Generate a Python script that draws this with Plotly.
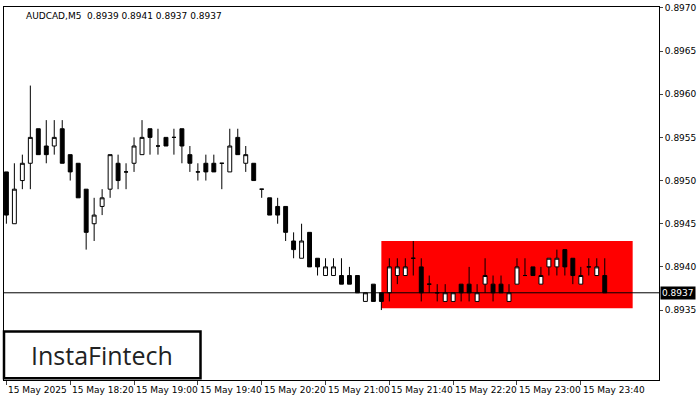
import plotly.graph_objects as go

# AUDCAD M5 bars, 17:40 .. 23:55
opens = [0.8951, 0.8945, 0.8950, 0.8952, 0.8956, 0.8954, 0.8954, 0.8956, 0.8953, 0.8952,
         0.8949, 0.8945, 0.8947, 0.8949, 0.8952, 0.8951, 0.8952, 0.8953, 0.8956, 0.8954,
         0.8955, 0.8955, 0.8956, 0.8953, 0.8951, 0.8952, 0.8952, 0.8952, 0.8951, 0.8955,
         0.8952, 0.8952, 0.8949, 0.8948, 0.8947, 0.8947, 0.8943, 0.8941, 0.8944, 0.8941,
         0.8939, 0.8939, 0.8939, 0.8939, 0.8939, 0.8936, 0.8938, 0.8937, 0.8937, 0.8939,
         0.8939, 0.8941, 0.8940, 0.8938, 0.8937, 0.8936, 0.8936, 0.8938, 0.8938, 0.8936,
         0.8938, 0.8938, 0.8938, 0.8936, 0.8938, 0.8939, 0.8940, 0.8938, 0.8940, 0.8940,
         0.8942, 0.8941, 0.8938, 0.8940, 0.8939, 0.8939]
highs = [0.8951, 0.8952, 0.8953, 0.8961, 0.8956, 0.8957, 0.8957, 0.8957, 0.8953, 0.8952,
         0.8949, 0.8948, 0.8949, 0.8953, 0.8953, 0.8952, 0.8955, 0.8957, 0.8956, 0.8956,
         0.8955, 0.8956, 0.8956, 0.8954, 0.8952, 0.8953, 0.8953, 0.8952, 0.8956, 0.8956,
         0.8954, 0.8952, 0.8949, 0.8948, 0.8948, 0.8947, 0.8944, 0.8945, 0.8944, 0.8941,
         0.8941, 0.8941, 0.8941, 0.8940, 0.8939, 0.8937, 0.8938, 0.8937, 0.8941, 0.8941,
         0.8941, 0.8943, 0.8941, 0.8939, 0.8938, 0.8938, 0.8937, 0.8938, 0.8940, 0.8938,
         0.8941, 0.8939, 0.8939, 0.8938, 0.8941, 0.8941, 0.8940, 0.8940, 0.8941, 0.8942,
         0.8942, 0.8941, 0.8940, 0.8941, 0.8941, 0.8941]
lows = [0.8945, 0.8945, 0.8949, 0.8949, 0.8953, 0.8952, 0.8953, 0.8952, 0.8950, 0.8948,
        0.8942, 0.8943, 0.8946, 0.8948, 0.8949, 0.8949, 0.8951, 0.8953, 0.8953, 0.8953,
        0.8954, 0.8953, 0.8952, 0.8951, 0.8950, 0.8950, 0.8951, 0.8949, 0.8951, 0.8953,
        0.8951, 0.8950, 0.8948, 0.8946, 0.8945, 0.8943, 0.8941, 0.8941, 0.8940, 0.8939,
        0.8939, 0.8939, 0.8938, 0.8938, 0.8937, 0.8936, 0.8936, 0.8935, 0.8936, 0.8938,
        0.8939, 0.8939, 0.8936, 0.8937, 0.8936, 0.8936, 0.8936, 0.8936, 0.8936, 0.8936,
        0.8937, 0.8936, 0.8937, 0.8936, 0.8938, 0.8939, 0.8939, 0.8938, 0.8939, 0.8939,
        0.8939, 0.8938, 0.8938, 0.8939, 0.8939, 0.8937]
closes = [0.8946, 0.8949, 0.8952, 0.8955, 0.8953, 0.8953, 0.8955, 0.8952, 0.8951, 0.8948,
          0.8944, 0.8946, 0.8948, 0.8953, 0.8950, 0.8951, 0.8954, 0.8955, 0.8955, 0.8954,
          0.8954, 0.8955, 0.8954, 0.8952, 0.8951, 0.8951, 0.8951, 0.8952, 0.8954, 0.8953,
          0.8953, 0.8950, 0.8949, 0.8946, 0.8946, 0.8944, 0.8942, 0.8943, 0.8940, 0.8940,
          0.8940, 0.8940, 0.8938, 0.8938, 0.8937, 0.8937, 0.8936, 0.8936, 0.8940, 0.8940,
          0.8940, 0.8941, 0.8937, 0.8938, 0.8937, 0.8937, 0.8937, 0.8937, 0.8937, 0.8937,
          0.8939, 0.8937, 0.8937, 0.8937, 0.8940, 0.8939, 0.8939, 0.8939, 0.8941, 0.8941,
          0.8940, 0.8939, 0.8939, 0.8940, 0.8940, 0.8937]

tick_idx = [0, 8, 16, 24, 32, 40, 48, 56, 64, 72]
tick_text = ['15 May 2025', '15 May 18:20', '15 May 19:00', '15 May 19:40', '15 May 20:20',
             '15 May 21:00', '15 May 21:40', '15 May 22:20', '15 May 23:00', '15 May 23:40']
price_ticks = [0.8935, 0.8940, 0.8945, 0.8950, 0.8955, 0.8960, 0.8965, 0.8970]
last_price = 0.8937
box_start, box_end = 47, 78.5
box_top, box_bottom = 0.8943, 0.89352

font = 'DejaVu Sans'
x = list(range(len(opens)))

fig = go.Figure()
fig.add_trace(go.Candlestick(x=x, open=opens, high=highs, low=lows, close=closes,
                             increasing=dict(fillcolor='white', line=dict(color='black', width=1)),
                             decreasing=dict(fillcolor='black', line=dict(color='black', width=1)),
                             whiskerwidth=0, showlegend=False, hoverinfo='skip'))

fig.add_shape(type='rect', x0=box_start, x1=box_end, y0=box_bottom, y1=box_top,
              fillcolor='#ff0000', line=dict(width=0), layer='below')
fig.add_shape(type='line', xref='paper', x0=0, x1=1, y0=last_price, y1=last_price,
              line=dict(color='black', width=1))

# MT-style left-anchored time labels
for i, t in zip(tick_idx, tick_text):
    fig.add_annotation(x=i, y=0, yref='paper', yshift=-3, text=t, showarrow=False,
                       xanchor='left', yanchor='top', font=dict(family=font, size=9, color='black'))

fig.add_annotation(x=1, xref='paper', y=last_price, text='0.8937', showarrow=False,
                   xanchor='left', xshift=1, bgcolor='black', font=dict(family=font, size=9, color='white'),
                   borderpad=1)
fig.add_annotation(x=0.03, xref='paper', y=0.995, yref='paper', xanchor='left', yanchor='top',
                   text='AUDCAD,M5  0.8939 0.8941 0.8937 0.8937', showarrow=False,
                   font=dict(family=font, size=9, color='black'))

# logo
fig.add_shape(type='rect', xref='paper', yref='paper', x0=0.0, x1=0.3, y0=0.005, y1=0.13,
              line=dict(color='black', width=2.5), fillcolor='white')
fig.add_annotation(x=0.15, xref='paper', y=0.067, yref='paper', text='InstaFintech', showarrow=False,
                   xanchor='center', yanchor='middle',
                   font=dict(family='Open Sans', size=25, color='#222222'))

fig.update_layout(
    width=700, height=400, plot_bgcolor='white', paper_bgcolor='white',
    margin=dict(l=3, r=40, t=4, b=20),
    xaxis=dict(range=[-0.3, 81.8], rangeslider=dict(visible=False), showgrid=False,
               tickvals=tick_idx, ticktext=['']*len(tick_idx), ticks='outside', ticklen=4,
               showline=True, linecolor='black', mirror=True, zeroline=False),
    yaxis=dict(range=[0.89269, 0.89701], side='right', tickvals=price_ticks,
               ticktext=['%.4f' % p for p in price_ticks], ticks='outside', ticklen=3,
               tickfont=dict(family=font, size=9, color='black'), showgrid=False,
               showline=True, linecolor='black', mirror=True, zeroline=False),
)

fig.write_html('out.html', config={'displayModeBar': False},
               post_script="document.body.style.margin='0';")
